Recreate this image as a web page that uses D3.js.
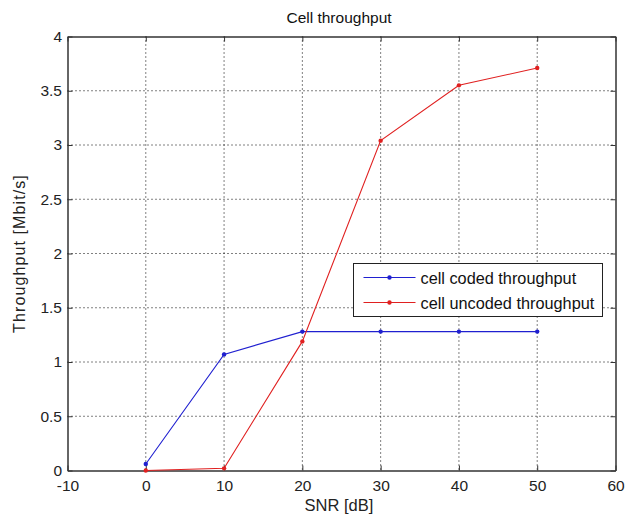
<!DOCTYPE html>
<html>
<head>
<meta charset="utf-8">
<script src="https://cdn.jsdelivr.net/npm/d3@7"></script>
<style>
  html, body { margin: 0; padding: 0; background: #fff; }
  svg { display: block; font-family: "Liberation Sans", Arial, sans-serif; }
</style>
</head>
<body>
<svg id="chart" width="626" height="521"></svg>
<script>
// SNR values (dB) and throughput per scheme (Mbit/s)
const snr = [0, 10, 20, 30, 40, 50];
const codedThroughput = [0.06, 1.07, 1.28, 1.28, 1.28, 1.28];
const uncodedThroughput = [0.0, 0.02, 1.19, 3.04, 3.55, 3.71];
const xTicks = [-10, 0, 10, 20, 30, 40, 50, 60];
const yTicks = [0, 0.5, 1, 1.5, 2, 2.5, 3, 3.5, 4];
const seriesNames = ["cell coded throughput", "cell uncoded throughput"];
const seriesColors = ["#2020d0", "#e02020"];

const svg = d3.select("#chart");
const plotLeft = 67.5, plotRight = 615.5, plotTop = 36.5, plotBottom = 470.5;

const x = d3.scaleLinear().domain([-10, 60]).range([plotLeft, plotRight]);
const y = d3.scaleLinear().domain([0, 4]).range([plotBottom, plotTop]);

// grid lines (dotted)
const grid = svg.append("g");
grid.selectAll(".gx").data(xTicks.slice(1, -1)).join("line")
  .attr("x1", d => x(d)).attr("x2", d => x(d))
  .attr("y1", plotTop).attr("y2", plotBottom)
  .attr("stroke", "#000").attr("stroke-width", 1).attr("stroke-dasharray", "1,3");
grid.selectAll(".gy").data(yTicks.slice(1, -1)).join("line")
  .attr("y1", d => y(d)).attr("y2", d => y(d))
  .attr("x1", plotLeft).attr("x2", plotRight)
  .attr("stroke", "#000").attr("stroke-width", 1).attr("stroke-dasharray", "1,3");

// axes with inward ticks, labels outside (plain hyphen for negatives)
const xAxis = d3.axisBottom(x).tickValues(xTicks).tickFormat(d => String(d)).tickSizeInner(-5).tickSizeOuter(0).tickPadding(9);
const yAxis = d3.axisLeft(y).tickValues(yTicks).tickFormat(d => String(d)).tickSizeInner(-5).tickSizeOuter(0).tickPadding(5.5);
const xTop = d3.axisTop(x).tickValues(xTicks).tickFormat("").tickSizeInner(-5).tickSizeOuter(0);
const yRight = d3.axisRight(y).tickValues(yTicks).tickFormat("").tickSizeInner(-5).tickSizeOuter(0);

function styleAxis(g) {
  g.select(".domain").attr("stroke", "#333").attr("stroke-width", 1.5);
  g.selectAll(".tick line").attr("stroke", "#333");
  g.selectAll(".tick text").attr("fill", "#222").attr("font-size", 15.5)
    .attr("font-family", "'Liberation Sans', Arial, sans-serif");
}
svg.append("g").attr("transform", `translate(0,${plotBottom})`).call(xAxis).call(styleAxis);
svg.append("g").attr("transform", `translate(${plotLeft},0)`).call(yAxis).call(styleAxis);
svg.append("g").attr("transform", `translate(0,${plotTop})`).call(xTop).call(styleAxis);
svg.append("g").attr("transform", `translate(${plotRight},0)`).call(yRight).call(styleAxis);

// series lines and dot markers
const line = d3.line().x(d => x(d[0])).y(d => y(d[1]));
[codedThroughput, uncodedThroughput].forEach((vals, i) => {
  const pts = snr.map((s, k) => [s, vals[k]]);
  svg.append("path").datum(pts).attr("d", line)
    .attr("fill", "none").attr("stroke", seriesColors[i]).attr("stroke-width", 1.1);
  svg.append("g").selectAll("circle").data(pts).join("circle")
    .attr("cx", d => x(d[0])).attr("cy", d => y(d[1])).attr("r", 2.2)
    .attr("fill", seriesColors[i]);
});

// title and axis labels
svg.append("text").attr("x", 339).attr("y", 23).attr("text-anchor", "middle")
  .attr("font-size", 15.5).attr("fill", "#111").text("Cell throughput");
svg.append("text").attr("x", 339).attr("y", 511).attr("text-anchor", "middle")
  .attr("font-size", 16.5).attr("fill", "#222").text("SNR [dB]");
svg.append("text").attr("transform", `translate(25,${(plotTop + plotBottom) / 2}) rotate(-90)`)
  .attr("text-anchor", "middle").attr("font-size", 16).attr("letter-spacing", 1.1)
  .attr("fill", "#222").text("Throughput [Mbit/s]");

// legend
const lg = svg.append("g").attr("transform", "translate(353.5,263.5)");
lg.append("rect").attr("width", 249).attr("height", 53).attr("fill", "#fff")
  .attr("stroke", "#222").attr("stroke-width", 1);
seriesNames.forEach((name, i) => {
  const yy = 14 + i * 25;
  lg.append("line").attr("x1", 10).attr("x2", 62).attr("y1", yy).attr("y2", yy)
    .attr("stroke", seriesColors[i]).attr("stroke-width", 1.1);
  lg.append("circle").attr("cx", 36).attr("cy", yy).attr("r", 2.2).attr("fill", seriesColors[i]);
  lg.append("text").attr("x", 67).attr("y", yy + 6).attr("font-size", 16.3).attr("fill", "#111").text(name);
});
</script>
</body>
</html>
